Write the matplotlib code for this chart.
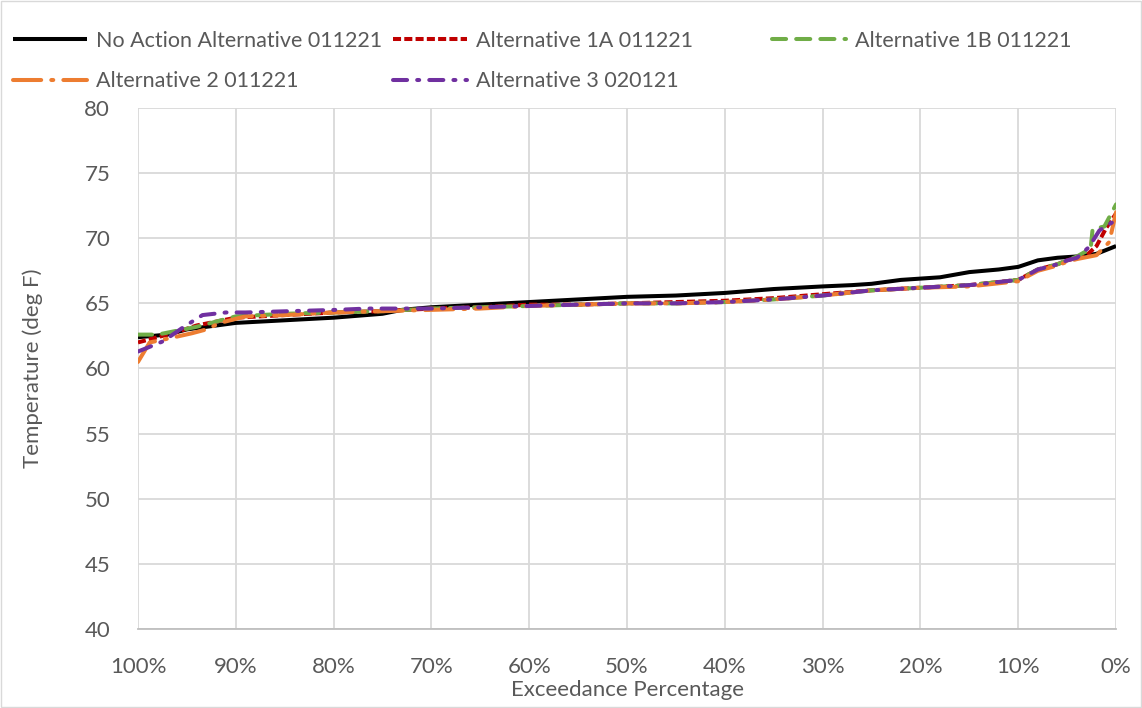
import matplotlib.pyplot as plt
from matplotlib.ticker import FuncFormatter

plt.rcParams['font.family'] = ['Lato', 'DejaVu Sans']

# exceedance (%) and temperature (deg F) for each run
na_x = [100, 97, 95, 92, 90, 85, 80, 75, 73, 70, 65, 60, 55, 50, 45, 40, 35, 30,
        27, 25, 22, 20, 18, 15, 12, 10, 8, 6, 4, 2, 0]
na_y = [62.4, 62.6, 63.0, 63.3, 63.5, 63.7, 63.9, 64.2, 64.5, 64.7, 64.9, 65.1,
        65.3, 65.5, 65.6, 65.8, 66.1, 66.3, 66.4, 66.5, 66.8, 66.9, 67.0, 67.4,
        67.6, 67.8, 68.3, 68.5, 68.6, 68.8, 69.4]

a1a_x = [100, 98, 96, 94, 92, 90, 85, 80, 75, 70, 65, 60, 55, 50, 45, 40, 35, 30,
         25, 20, 15, 10, 8, 6, 5, 4, 3, 2, 1, 0]
a1a_y = [62.0, 62.4, 62.8, 63.3, 63.6, 63.9, 64.1, 64.3, 64.4, 64.6, 64.7, 64.9,
         64.9, 65.0, 65.1, 65.2, 65.4, 65.7, 66.0, 66.2, 66.4, 66.8, 67.6, 68.0,
         68.3, 68.5, 68.7, 69.4, 70.8, 71.9]

a1b_x = [100, 98, 96, 94, 92, 90, 85, 80, 75, 70, 65, 60, 55, 50, 45, 40, 35, 30,
         25, 20, 15, 10, 8, 6, 5, 4, 2.6, 2.4, 1.2, 0]
a1b_y = [62.6, 62.6, 62.9, 63.2, 63.6, 64.0, 64.2, 64.3, 64.4, 64.6, 64.7, 64.8,
         64.9, 65.0, 65.0, 65.1, 65.3, 65.6, 66.0, 66.2, 66.4, 66.8, 67.6, 68.0,
         68.3, 68.6, 69.2, 70.7, 70.9, 72.6]

a2_x = [100, 98.8, 97.5, 94.5, 93, 91.6, 89, 85, 80, 75, 70, 65, 60, 55, 50, 45,
        40, 35, 30, 25, 20, 15, 10, 8, 6, 5, 4, 2, 0.7, 0]
a2_y = [60.5, 62.0, 62.2, 62.7, 63.0, 63.5, 64.0, 64.1, 64.3, 64.4, 64.5, 64.6,
        64.8, 64.9, 65.0, 65.0, 65.1, 65.3, 65.6, 66.0, 66.2, 66.3, 66.7, 67.5,
        67.9, 68.2, 68.4, 68.7, 69.7, 72.0]

a3_x = [100, 99, 97.4, 95.3, 93.4, 91, 89, 84.5, 79.7, 76.6, 70, 65, 60, 55, 50,
        45, 40, 35, 30, 25, 20, 15, 10, 8, 6, 5, 4, 2.8, 1.7, 0]
a3_y = [61.3, 61.6, 62.1, 63.2, 64.1, 64.3, 64.3, 64.4, 64.5, 64.6, 64.6, 64.7,
        64.8, 64.9, 65.0, 65.0, 65.1, 65.3, 65.6, 66.0, 66.2, 66.4, 66.8, 67.6,
        68.0, 68.3, 68.5, 69.3, 70.6, 71.4]

fig = plt.figure(figsize=(11.42, 7.08), dpi=100)
ax = fig.add_axes([0.1208, 0.1116, 0.8565, 0.7359])

lw = 2.9
l0, = ax.plot(na_x, na_y, color='black', lw=lw, solid_capstyle='butt',
              label='No Action Alternative 011221')
l1, = ax.plot(a1a_x, a1a_y, color='#C00000', lw=lw, dashes=(2.0, 0.8),
              label='Alternative 1A 011221')
l2, = ax.plot(a1b_x, a1b_y, color='#70AD47', lw=lw, dashes=(3.5, 2.5),
              dash_capstyle='round', label='Alternative 1B 011221')
l3, = ax.plot(a2_x, a2_y, color='#ED7D31', lw=lw, dashes=(7, 2.5, 0.5, 2.5),
              dash_capstyle='round', label='Alternative 2 011221')
l4, = ax.plot(a3_x, a3_y, color='#7030A0', lw=lw, dashes=(3.5, 2.5, 0.5, 2.5),
              dash_capstyle='round', label='Alternative 3 020121')

ax.set_xlim(100, 0)
ax.set_ylim(40, 80)
ax.set_xticks(range(100, -1, -10))
ax.set_yticks(range(40, 81, 5))
ax.xaxis.set_major_formatter(FuncFormatter(lambda v, p: f'{v:.0f}%'))
ax.grid(True, color='#D9D9D9', lw=1.3)
ax.set_axisbelow(True)
for s in ['top', 'left', 'right']:
    ax.spines[s].set_visible(False)
ax.spines['bottom'].set_color('#BFBFBF')
ax.spines['bottom'].set_linewidth(1.3)
ax.tick_params(length=0, labelsize=16, colors='#595959')
ax.tick_params(axis='y', pad=20)
ax.tick_params(axis='x', pad=20)
ax.set_xlabel('Exceedance Percentage', fontsize=16, color='#595959', labelpad=2)
ax.set_ylabel('Temperature (deg F)', fontsize=16, color='#595959', labelpad=30)

# legend laid out in fixed columns like the original
cols = [([l0, l3], 18), ([l1, l4], 398), ([l2], 777)]
for handles, xpix in cols:
    fig.legend(handles=handles, loc='upper left',
               bbox_to_anchor=(xpix / 1142 - 0.004, 1 - 31 / 708),
               frameon=False, fontsize=15.5, handlelength=3.4, handletextpad=0.45,
               labelspacing=0.95, borderaxespad=0, borderpad=0,
               labelcolor='#595959')

fig.patches.append(plt.Rectangle((0.001, 0.001), 0.998, 0.998, transform=fig.transFigure,
                                 fill=False, edgecolor='#D9D9D9', lw=1))

fig.savefig('out.png', dpi=100)
